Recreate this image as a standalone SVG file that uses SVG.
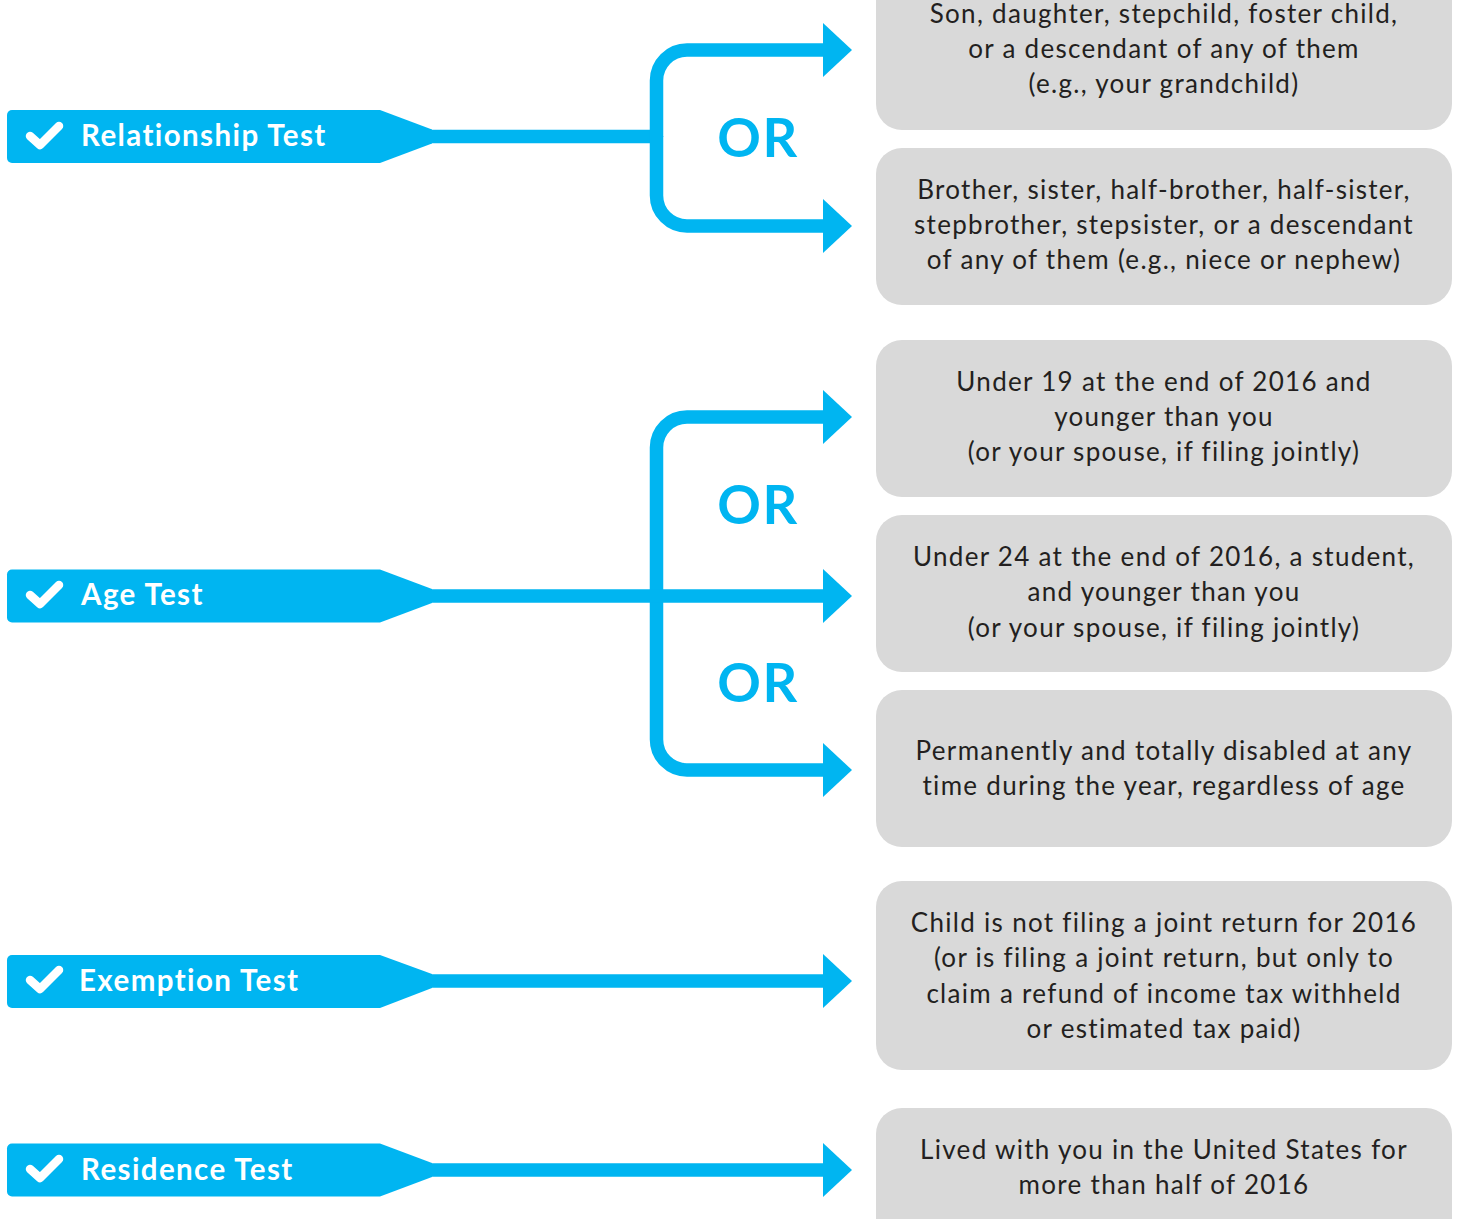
<svg xmlns="http://www.w3.org/2000/svg" width="1460" height="1219" viewBox="0 0 1460 1219">
<defs>
<style>
.lbl{fill:#00b5f1}
.chk{fill:none;stroke:#fff;stroke-width:8.5;stroke-linecap:round;stroke-linejoin:round}
.lt{font-family:Lato,"Open Sans","Liberation Sans",sans-serif;font-weight:700;font-size:29.5px;letter-spacing:1.4px;fill:#fff}
.box{fill:#d9d9d9}
.bt{font-family:Lato,"Open Sans","Liberation Sans",sans-serif;font-size:26px;letter-spacing:1.3px;fill:#231f20;text-anchor:middle}
.or{font-family:Lato,"Open Sans","Liberation Sans",sans-serif;font-weight:700;font-size:54px;letter-spacing:1.5px;fill:#00b5f1;text-anchor:middle}
.con{fill:none;stroke:#00b5f1;stroke-width:13.5}
</style>
<marker id="ah" markerUnits="userSpaceOnUse" markerWidth="30" markerHeight="56" refX="1" refY="27" orient="auto" overflow="visible">
<path d="M0,0 L29,27 L0,54 Z" fill="#00b5f1"/>
</marker>
</defs>
<rect width="1460" height="1219" fill="#fff"/>

<g id="connectors">
<path class="con" d="M428,136.5 H657"/>
<path class="con" marker-end="url(#ah)" d="M656.5,137 V80.5 A30.5,30.5 0 0 1 687,50 H824"/>
<path class="con" marker-end="url(#ah)" d="M656.5,136 V195.5 A30.5,30.5 0 0 0 687,226 H824"/>
<path class="con" marker-end="url(#ah)" d="M656.5,596 V447.5 A30.5,30.5 0 0 1 687,417 H824"/>
<path class="con" marker-end="url(#ah)" d="M656.5,595 V739.5 A30.5,30.5 0 0 0 687,770 H824"/>
<path class="con" marker-end="url(#ah)" d="M428,596 H824"/>
<path class="con" marker-end="url(#ah)" d="M428,981 H824"/>
<path class="con" marker-end="url(#ah)" d="M428,1170 H824"/>
</g>

<g id="or-labels">
<text class="or" x="758" y="157">OR</text>
<text class="or" x="758" y="524">OR</text>
<text class="or" x="758" y="702">OR</text>
</g>

<g id="relationship-test">
<path class="lbl" d="M12,110 H380 L432,129.5 V143.5 L380,163 H12 A5,5 0 0 1 7,158 V115 A5,5 0 0 1 12,110 Z"/>
<path class="chk" d="M30,136 L40,145 L59,126"/>
<text class="lt" x="81" y="146">Relationship Test</text>
</g>

<g id="age-test">
<path class="lbl" d="M12,569.5 H380 L432,589 V603 L380,622.5 H12 A5,5 0 0 1 7,617.5 V574.5 A5,5 0 0 1 12,569.5 Z"/>
<path class="chk" d="M30,595 L40,604 L59,585"/>
<text class="lt" x="81" y="605">Age Test</text>
</g>

<g id="exemption-test">
<path class="lbl" d="M12,955 H380 L432,974 V988 L380,1008 H12 A5,5 0 0 1 7,1003 V960 A5,5 0 0 1 12,955 Z"/>
<path class="chk" d="M30,980 L40,989 L59,970"/>
<text class="lt" x="79" y="991">Exemption Test</text>
</g>

<g id="residence-test">
<path class="lbl" d="M12,1143.5 H380 L432,1163 V1177 L380,1196.5 H12 A5,5 0 0 1 7,1191.5 V1148.5 A5,5 0 0 1 12,1143.5 Z"/>
<path class="chk" d="M30,1169 L40,1178 L59,1159"/>
<text class="lt" x="81" y="1180">Residence Test</text>
</g>

<g id="box-son">
<rect class="box" x="876" y="-27" width="576" height="157" rx="26"/>
<text class="bt" x="1164" y="23">Son, daughter, stepchild, foster child,</text>
<text class="bt" x="1164" y="58">or a descendant of any of them</text>
<text class="bt" x="1164" y="93">(e.g., your grandchild)</text>
</g>

<g id="box-brother">
<rect class="box" x="876" y="148" width="576" height="157" rx="26"/>
<text class="bt" x="1164" y="199">Brother, sister, half-brother, half-sister,</text>
<text class="bt" x="1164" y="234">stepbrother, stepsister, or a descendant</text>
<text class="bt" x="1164" y="269">of any of them (e.g., niece or nephew)</text>
</g>

<g id="box-under19">
<rect class="box" x="876" y="340" width="576" height="157" rx="26"/>
<text class="bt" x="1164" y="391">Under 19 at the end of 2016 and</text>
<text class="bt" x="1164" y="426">younger than you</text>
<text class="bt" x="1164" y="461">(or your spouse, if filing jointly)</text>
</g>

<g id="box-under24">
<rect class="box" x="876" y="515" width="576" height="157" rx="26"/>
<text class="bt" x="1164" y="566">Under 24 at the end of 2016, a student,</text>
<text class="bt" x="1164" y="601">and younger than you</text>
<text class="bt" x="1164" y="637">(or your spouse, if filing jointly)</text>
</g>

<g id="box-disabled">
<rect class="box" x="876" y="690" width="576" height="157" rx="26"/>
<text class="bt" x="1164" y="760">Permanently and totally disabled at any</text>
<text class="bt" x="1164" y="795">time during the year, regardless of age</text>
</g>

<g id="box-joint">
<rect class="box" x="876" y="881" width="576" height="189" rx="26"/>
<text class="bt" x="1164" y="932">Child is not filing a joint return for 2016</text>
<text class="bt" x="1164" y="967">(or is filing a joint return, but only to</text>
<text class="bt" x="1164" y="1003">claim a refund of income tax withheld</text>
<text class="bt" x="1164" y="1038">or estimated tax paid)</text>
</g>

<g id="box-lived">
<rect class="box" x="876" y="1108" width="576" height="157" rx="26"/>
<text class="bt" x="1164" y="1159">Lived with you in the United States for</text>
<text class="bt" x="1164" y="1194">more than half of 2016</text>
</g>
</svg>
